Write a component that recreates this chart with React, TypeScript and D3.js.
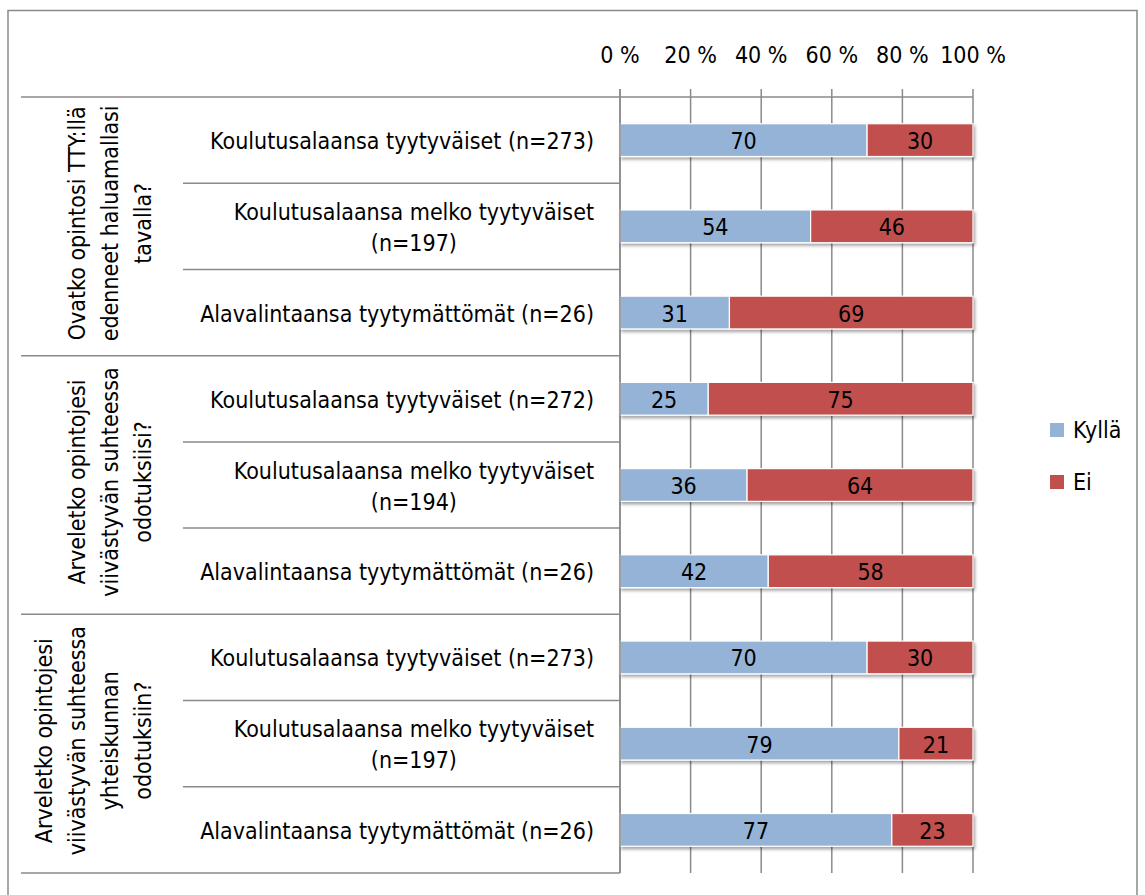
import React, { useEffect, useRef } from "react";
import * as d3 from "d3";

const groupLabels: string[][] = [
  ["Ovatko opintosi TTY:llä", "edenneet haluamallasi", "tavalla?"],
  ["Arveletko opintojesi", "viivästyvän suhteessa", "odotuksiisi?"],
  ["Arveletko opintojesi", "viivästyvän suhteessa", "yhteiskunnan", "odotuksiin?"],
];
const categoryLabels: string[][] = [
  ["Koulutusalaansa tyytyväiset (n=273)"],
  ["Koulutusalaansa melko tyytyväiset", "(n=197)"],
  ["Alavalintaansa tyytymättömät (n=26)"],
  ["Koulutusalaansa tyytyväiset (n=272)"],
  ["Koulutusalaansa melko tyytyväiset", "(n=194)"],
  ["Alavalintaansa tyytymättömät (n=26)"],
  ["Koulutusalaansa tyytyväiset (n=273)"],
  ["Koulutusalaansa melko tyytyväiset", "(n=197)"],
  ["Alavalintaansa tyytymättömät (n=26)"],
];
const kylla = [70, 54, 31, 25, 36, 42, 70, 79, 77];
const ei = [30, 46, 69, 75, 64, 58, 30, 21, 23];
const seriesNames = ["Kyllä", "Ei"];
const seriesColors = ["#95B3D7", "#C0504D"];
const tickValues = [0, 20, 40, 60, 80, 100];

const W = 1145;
const H = 895;
const FONT = "'Liberation Sans Narrow', 'DejaVu Sans Condensed', 'Open Sans', sans-serif";
const FS = 23;

export default function App() {
  const ref = useRef<SVGSVGElement | null>(null);

  useEffect(() => {
    const svg = d3.select(ref.current);
    svg.selectAll("*").remove();

    const x = d3.scaleLinear().domain([0, 100]).range([620, 973]);
    const y = d3
      .scaleBand<number>()
      .domain(d3.range(categoryLabels.length))
      .range([97, 873])
      .paddingInner(0)
      .paddingOuter(0);
    const bw = y.bandwidth();
    const barH = bw * 0.38;
    const gray = "#8a8a8a";

    const defs = svg.append("defs");
    const f = defs
      .append("filter")
      .attr("id", "sh")
      .attr("x", "-5%")
      .attr("y", "-20%")
      .attr("width", "115%")
      .attr("height", "160%");
    f.append("feDropShadow")
      .attr("dx", 1.5)
      .attr("dy", 2.5)
      .attr("stdDeviation", 1.5)
      .attr("flood-color", "#000")
      .attr("flood-opacity", 0.35);

    // outer border
    svg
      .append("rect")
      .attr("x", 8)
      .attr("y", 10.5)
      .attr("width", 1129)
      .attr("height", 900)
      .attr("fill", "none")
      .attr("stroke", gray)
      .attr("stroke-width", 1.5);

    // gridlines + ticks
    svg
      .append("g")
      .selectAll("line")
      .data(tickValues)
      .join("line")
      .attr("x1", (d) => x(d))
      .attr("x2", (d) => x(d))
      .attr("y1", 89)
      .attr("y2", 873)
      .attr("stroke", gray)
      .attr("stroke-width", 1.5);

    // tick labels
    svg
      .append("g")
      .selectAll("text")
      .data(tickValues)
      .join("text")
      .attr("x", (d) => x(d))
      .attr("y", 63)
      .attr("text-anchor", "middle")
      .attr("font-family", FONT)
      .attr("font-size", FS)
      .attr("fill", "#000")
      .text((d) => `${d} %`);

    // top axis line
    svg
      .append("line")
      .attr("x1", 21)
      .attr("x2", x(100))
      .attr("y1", 97)
      .attr("y2", 97)
      .attr("stroke", gray)
      .attr("stroke-width", 1.5);
    // bottom line
    svg
      .append("line")
      .attr("x1", 21)
      .attr("x2", 620)
      .attr("y1", 873)
      .attr("y2", 873)
      .attr("stroke", gray)
      .attr("stroke-width", 1.5);

    // separators
    const sepG = svg.append("g");
    for (let i = 1; i < categoryLabels.length; i++) {
      const yy = y(i)!;
      sepG
        .append("line")
        .attr("x1", i % 3 === 0 ? 21 : 183)
        .attr("x2", 620)
        .attr("y1", yy)
        .attr("y2", yy)
        .attr("stroke", gray)
        .attr("stroke-width", 1.5);
    }

    // bars
    const stacked = categoryLabels.map((_, i) => [
      { s: 0, x0: 0, x1: kylla[i], v: kylla[i] },
      { s: 1, x0: kylla[i], x1: kylla[i] + ei[i], v: ei[i] },
    ]);
    const barsG = svg.append("g");
    stacked.forEach((segs, i) => {
      const cy = y(i)! + bw / 2;
      const row = barsG.append("g").attr("filter", "url(#sh)");
      row
        .selectAll("rect")
        .data(segs)
        .join("rect")
        .attr("x", (d) => x(d.x0))
        .attr("y", cy - barH / 2)
        .attr("width", (d) => x(d.x1) - x(d.x0))
        .attr("height", barH)
        .attr("fill", (d) => seriesColors[d.s])
        .attr("stroke", "#fff")
        .attr("stroke-width", 1.2);
      barsG
        .append("g")
        .selectAll("text")
        .data(segs)
        .join("text")
        .attr("x", (d) => (x(d.x0) + x(d.x1)) / 2)
        .attr("y", cy + 9)
        .attr("text-anchor", "middle")
        .attr("font-family", FONT)
        .attr("font-size", FS)
        .attr("fill", "#000")
        .text((d) => d.v);
    });

    // left axis line
    svg
      .append("line")
      .attr("x1", 620)
      .attr("x2", 620)
      .attr("y1", 89)
      .attr("y2", 873)
      .attr("stroke", gray)
      .attr("stroke-width", 1.5);

    // category labels
    const catG = svg.append("g");
    categoryLabels.forEach((lines, i) => {
      const cy = y(i)! + bw / 2;
      const lh = 31;
      const t = catG
        .append("text")
        .attr("font-family", FONT)
        .attr("font-size", FS)
        .attr("fill", "#000")
        .attr("text-anchor", "middle");
      const startY = cy + 9 - ((lines.length - 1) * lh) / 2;
      const spans = lines.map((l, k) =>
        t.append("tspan").attr("y", startY + k * lh).text(l)
      );
      let maxW = 0;
      spans.forEach((s) => {
        const w = (s.node() as SVGTextContentElement).getComputedTextLength();
        if (w > maxW) maxW = w;
      });
      const cx = 594 - maxW / 2;
      spans.forEach((s) => s.attr("x", cx));
    });

    // group labels
    const grpG = svg.append("g");
    groupLabels.forEach((lines, g) => {
      const top = y(g * 3)!;
      const bottom = y(g * 3 + 2)! + bw;
      const cy = (top + bottom) / 2 - 3;
      const t = grpG
        .append("text")
        .attr("transform", `translate(0,${cy}) rotate(-90)`)
        .attr("font-family", FONT)
        .attr("font-size", FS)
        .attr("fill", "#000")
        .attr("text-anchor", "middle");
      const n = lines.length;
      lines.forEach((l, k) => {
        t.append("tspan")
          .attr("x", 0)
          .attr("y", 151 - (n - 1 - k) * 33)
          .text(l);
      });
    });

    // legend
    const legG = svg.append("g");
    seriesNames.forEach((name, i) => {
      const cy = 430 + i * 52;
      legG
        .append("rect")
        .attr("x", 1050)
        .attr("y", cy - 7)
        .attr("width", 14)
        .attr("height", 14)
        .attr("fill", seriesColors[i]);
      legG
        .append("text")
        .attr("x", 1073)
        .attr("y", cy + 8)
        .attr("font-family", FONT)
        .attr("font-size", FS)
        .attr("fill", "#000")
        .text(name);
    });
  }, []);

  return (
    <svg
      ref={ref}
      width={W}
      height={H}
      style={{ position: "absolute", left: 0, top: 0, background: "#fff" }}
    />
  );
}
